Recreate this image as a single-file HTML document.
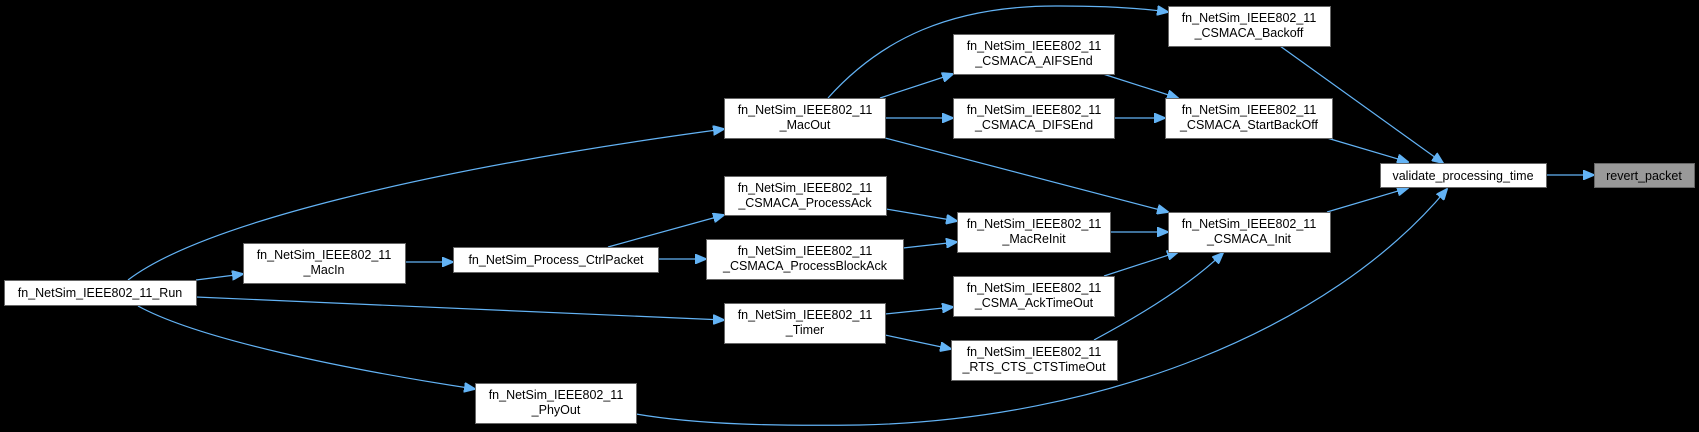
<!DOCTYPE html>
<html><head><meta charset="utf-8"><style>
html,body{margin:0;padding:0;background:#000;}
svg{display:block;}
text{font-family:"Liberation Sans",Arial,sans-serif;font-size:12.5px;fill:#000;text-anchor:middle;}
rect{fill:#fff;stroke:#666;stroke-width:1;}
path{fill:none;stroke:#63b3f5;stroke-width:1.2;}
</style></head><body>
<svg width="1699" height="432" viewBox="0 0 1699 432" xmlns="http://www.w3.org/2000/svg">
<defs><marker id="a" markerWidth="12" markerHeight="10" refX="11" refY="5" orient="auto" markerUnits="userSpaceOnUse"><path d="M0,0 L12,5 L0,10 Z" style="fill:#63b3f5;stroke:#63b3f5;stroke-width:1"/></marker></defs>
<g marker-end="url(#a)">
<path d="M128,280 C200,225 420,170 724,129"/>
<path d="M196,280 L243,274"/>
<path d="M196,297 L724,320"/>
<path d="M138,306 C200,340 350,370 475,389"/>
<path d="M405,262 L453,262"/>
<path d="M608,247 L724,215"/>
<path d="M658,259 L706,259"/>
<path d="M828,98 C880,40 950,5 1060,6 C1100,6 1140,8 1168,12"/>
<path d="M880,98 L953,74"/>
<path d="M885,118 L953,118"/>
<path d="M885,138 L1168,212"/>
<path d="M1103,74 L1178,98"/>
<path d="M1114,118 L1165,118"/>
<path d="M886,209 L957,221"/>
<path d="M903,248 L957,242"/>
<path d="M1110,232 L1168,232"/>
<path d="M885,314 L953,307"/>
<path d="M885,335 L951,349"/>
<path d="M1104,276 L1178,252"/>
<path d="M1094,340 C1150,310 1195,280 1223,253"/>
<path d="M1280,46 L1443,163"/>
<path d="M1327,138 L1408,162"/>
<path d="M1327,212 L1408,188"/>
<path d="M636,414 C700,425 780,426 860,425 C1100,420 1330,330 1447,189"/>
<path d="M1547,175 L1594,175"/>
</g>
<rect x="4.5" y="280.5" width="192" height="25"/><text x="100" y="297">fn_NetSim_IEEE802_11_Run</text>
<rect x="243.5" y="243.5" width="162" height="40"/><text x="324" y="259">fn_NetSim_IEEE802_11</text><text x="324" y="274">_MacIn</text>
<rect x="453.5" y="247.5" width="205" height="25"/><text x="556" y="264">fn_NetSim_Process_CtrlPacket</text>
<rect x="724.5" y="98.5" width="161" height="40"/><text x="805" y="114">fn_NetSim_IEEE802_11</text><text x="805" y="129">_MacOut</text>
<rect x="724.5" y="176.5" width="162" height="39"/><text x="805" y="192">fn_NetSim_IEEE802_11</text><text x="805" y="207">_CSMACA_ProcessAck</text>
<rect x="706.5" y="239.5" width="197" height="40"/><text x="805" y="255">fn_NetSim_IEEE802_11</text><text x="805" y="270">_CSMACA_ProcessBlockAck</text>
<rect x="724.5" y="303.5" width="161" height="40"/><text x="805" y="319">fn_NetSim_IEEE802_11</text><text x="805" y="334">_Timer</text>
<rect x="475.5" y="383.5" width="161" height="40"/><text x="556" y="399">fn_NetSim_IEEE802_11</text><text x="556" y="414">_PhyOut</text>
<rect x="1168.5" y="6.5" width="162" height="40"/><text x="1249" y="22">fn_NetSim_IEEE802_11</text><text x="1249" y="37">_CSMACA_Backoff</text>
<rect x="953.5" y="34.5" width="161" height="40"/><text x="1034" y="50">fn_NetSim_IEEE802_11</text><text x="1034" y="65">_CSMACA_AIFSEnd</text>
<rect x="953.5" y="98.5" width="161" height="40"/><text x="1034" y="114">fn_NetSim_IEEE802_11</text><text x="1034" y="129">_CSMACA_DIFSEnd</text>
<rect x="1165.5" y="98.5" width="167" height="40"/><text x="1249" y="114">fn_NetSim_IEEE802_11</text><text x="1249" y="129">_CSMACA_StartBackOff</text>
<rect x="957.5" y="212.5" width="153" height="40"/><text x="1034" y="228">fn_NetSim_IEEE802_11</text><text x="1034" y="243">_MacReInit</text>
<rect x="1168.5" y="212.5" width="162" height="40"/><text x="1249" y="228">fn_NetSim_IEEE802_11</text><text x="1249" y="243">_CSMACA_Init</text>
<rect x="953.5" y="276.5" width="161" height="40"/><text x="1034" y="292">fn_NetSim_IEEE802_11</text><text x="1034" y="307">_CSMA_AckTimeOut</text>
<rect x="951.5" y="340.5" width="166" height="40"/><text x="1034" y="356">fn_NetSim_IEEE802_11</text><text x="1034" y="371">_RTS_CTS_CTSTimeOut</text>
<rect x="1380.5" y="163.5" width="166" height="24"/><text x="1463" y="180">validate_processing_time</text>
<rect x="1594.5" y="163.5" width="100" height="24" style="fill:#999"/><text x="1644" y="180">revert_packet</text>
</svg>
</body></html>
